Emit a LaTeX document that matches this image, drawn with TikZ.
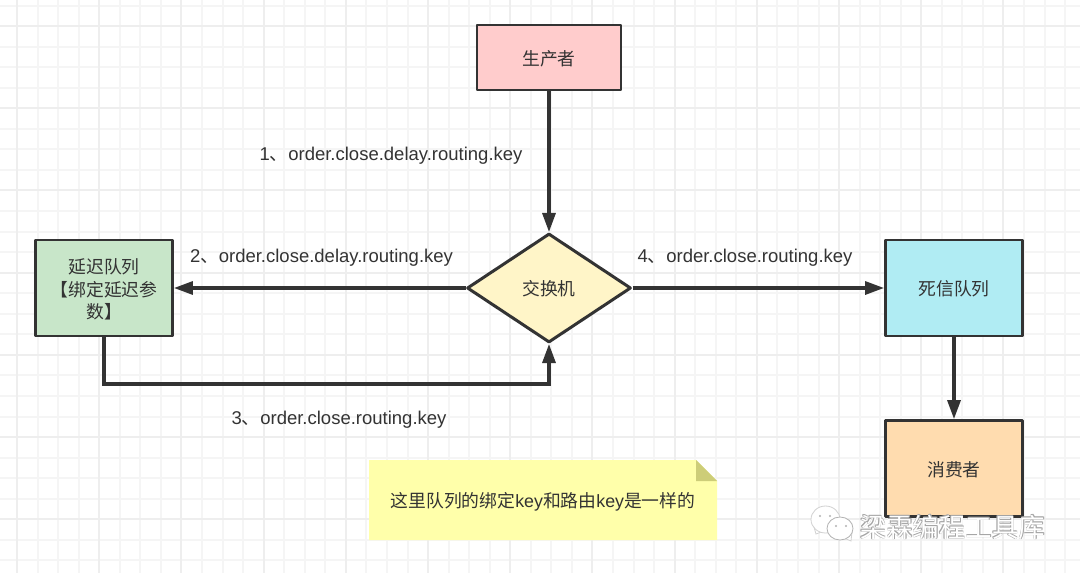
\documentclass[tikz,border=0pt]{standalone}
\usepackage{fontspec}
\setmainfont{Liberation Sans}
\newfontfamily\cjk{Noto Sans CJK SC}
\usetikzlibrary{arrows.meta,shapes.geometric}
\definecolor{inkgray}{HTML}{333333}
\definecolor{gridmajor}{HTML}{EEEEEE}
\definecolor{gridminor}{HTML}{F5F5F5}
\tikzset{
 boxnode/.style={draw=inkgray,line width=2.8pt,line join=round,minimum width=137pt,minimum height=96pt,inner sep=0pt,align=center,text=inkgray,font=\cjk\fontsize{17.8}{22.5}\selectfont,text height=16.6pt,text depth=1pt},
 flow/.style={draw=inkgray,line width=3.2pt,-{Triangle[length=19pt,width=13pt]}},
 keylabel/.style={inner sep=0pt,text=inkgray,font=\fontsize{18.5}{20}\selectfont},
 wmtext/.style={inner sep=0pt,font=\cjk\fontsize{26.4}{28}\selectfont},
 wmbubble/.style={draw=black!18,fill=white,line width=.8pt}
}
\begin{document}
\begin{tikzpicture}[x=1pt,y=-1pt]
 \useasboundingbox[fill=white] (0,0) rectangle (1080,573);
 % paper grid
 \foreach \i [evaluate=\i as \gx using round(-3.5+20.55*\i)] in {0,...,52} {\draw[line width=1.5pt,draw=gridminor] (\gx,0) -- +(0,573);}
 \foreach \i [evaluate=\i as \gy using round(5.5+20.55*\i)] in {0,...,28} {\draw[line width=1.5pt,draw=gridminor] (0,\gy) -- +(1080,0);}
 \foreach \i [evaluate=\i as \gx using round(17+82.2*\i)] in {0,...,13} {\draw[line width=2pt,draw=gridmajor] (\gx,0) -- +(0,573);}
 \foreach \i [evaluate=\i as \gy using round(26+82.2*\i)] in {0,...,6} {\draw[line width=2pt,draw=gridmajor] (0,\gy) -- +(1080,0);}
 \node[boxnode,fill=red!20!white,minimum width=144pt,minimum height=65pt] (producer) at (549,57.5) {生产者};
 \node[boxnode,line width=3pt,fill={rgb,255:red,255;green,245;blue,200},shape=diamond,minimum width=164pt,minimum height=109pt] (exchange) at (549,288) {交换机};
 \node[boxnode,fill={rgb,255:red,200;green,230;blue,201},text height=62pt] (delayq) at (104,288) {延迟队列\\【绑定延迟参\\数】};
 \node[boxnode,fill={rgb,255:red,176;green,236;blue,243}] (deadq) at (954,288) {死信队列};
 \node[boxnode,fill={rgb,255:red,255;green,220;blue,175}] (consumer) at (954,468.5) {消费者};
 \draw[flow] (producer) -- (exchange);
 \draw[flow] (exchange) -- (delayq);
 \draw[flow] (exchange) -- (deadq);
 \draw[flow] (deadq) -- (consumer);
 \draw[flow] (delayq.south) |- (300,384) -| (exchange.south);
 \node[keylabel] (keyone) at (391,156) {1{\cjk 、}order.close.delay.routing.key};
 \node[keylabel] (keytwo) at (321.5,258) {2{\cjk 、}order.close.delay.routing.key};
 \node[keylabel] (keythree) at (339,420) {3{\cjk 、}order.close.routing.key};
 \node[keylabel] (keyfour) at (745,258) {4{\cjk 、}order.close.routing.key};
 % note with folded corner
 \fill[fill={rgb,255:red,255;green,255;blue,170}] (369,460) -- (696,460) -- (717,481) -- (717,540) -- (369,540) -- cycle;
 \fill[fill={rgb,255:red,205;green,205;blue,120}] (696,460) -- (717,481) -- (696,481) -- cycle;
 \node[keylabel,font=\fontsize{17.8}{20}\selectfont] (notetext) at (543,502) {{\cjk 这里队列的绑定}key{\cjk 和路由}key{\cjk 是一样的}};
 % watermark
 \draw[wmbubble] (816,534) -- (814,527) -- (824,531) -- cycle;
 \draw[wmbubble] (825.5,519.5) ellipse (14.5pt and 13.5pt);
 \draw[wmbubble] (851,541) -- (852,532) -- (844,538) -- cycle;
 \draw[wmbubble,draw=black!30] (840,528.5) ellipse (13pt and 11.5pt);
 \foreach \ex/\ey in {820/516,830/516,836/526,846/526} {\fill[black!30] (\ex,\ey) circle (1.2pt);}
 \foreach \i/\dx/\dy in {a/-.5/-.3,b/.5/-.3,c/-.5/.5,d/.5/.5} {\node[wmtext,text=black!35] (mark\i) at (952.5+\dx,527+\dy) {梁霖编程工具库};}
 \node[wmtext,text=white] (mark) at (952.5,527) {梁霖编程工具库};
\end{tikzpicture}
\end{document}
